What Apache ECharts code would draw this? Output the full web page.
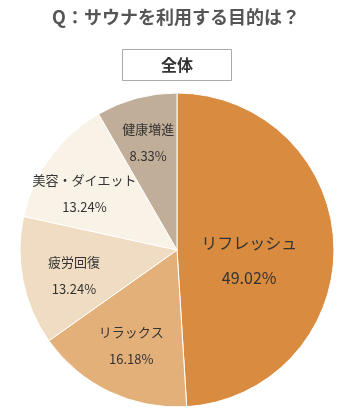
<!DOCTYPE html>
<html>
<head>
<meta charset="utf-8">
<script src="https://cdn.jsdelivr.net/npm/echarts@6/dist/echarts.min.js"></script>
<style>
  html, body { margin: 0; padding: 0; background: #fff; }
  #chart { width: 352px; height: 420px; }
</style>
</head>
<body>
<div id="chart"></div>
<script>
// 回答カテゴリと割合(%)
const categories = ['リフレッシュ', 'リラックス', '疲労回復', '美容・ダイエット', '健康増進'];
const values = [49.02, 16.18, 13.24, 13.24, 8.33];
const colors = ['#D98B3F', '#E4B07A', '#F0DCC2', '#F9F2E6', '#C1AE99'];
// ラベルの半径位置(半径に対する割合)と縦方向の微調整
const labelRadius = [0.46, 0.675, 0.67, 0.73, 0.71];
const labelShiftY = [13, 0, 5, 11, 0];

const CX = 177, CY = 250, R = 157;
const FONT = '"Noto Sans CJK JP", "Noto Sans", sans-serif';

const chart = echarts.init(document.getElementById('chart'));

const option = {
  animation: false,
  title: {
    text: 'Q：サウナを利用する目的は？',
    left: 'center',
    top: 3,
    textStyle: { fontFamily: FONT, fontSize: 18, fontWeight: 'bold', color: '#555' }
  },
  graphic: [
    {
      type: 'rect',
      shape: { x: 122.5, y: 49.5, width: 109, height: 31 },
      style: { fill: '#fff', stroke: '#aaa', lineWidth: 1 }
    },
    {
      type: 'text',
      x: 177, y: 65,
      style: {
        text: '全体', fontFamily: FONT, fontSize: 16, fontWeight: 'bold',
        fill: '#333', align: 'center', verticalAlign: 'middle'
      }
    }
  ],
  series: [
    {
      type: 'pie',
      center: [CX, CY],
      radius: [0, R],
      startAngle: 90,
      clockwise: true,
      itemStyle: { borderColor: '#fff', borderWidth: 1 },
      label: {
        show: true,
        position: 'inside',
        fontFamily: FONT,
        fontSize: 13,
        color: '#333',
        lineHeight: 27,
        formatter: p => p.name + '\n' + p.value.toFixed(2) + '%'
      },
      labelLine: { show: false },
      labelLayout: function (params) {
        const rect = params.labelRect;
        const lx = rect.x + rect.width / 2;
        const ly = rect.y + rect.height / 2;
        const dx = lx - CX, dy = ly - CY;
        const d = Math.sqrt(dx * dx + dy * dy) || 1;
        const f = labelRadius[params.dataIndex] * R;
        return {
          dx: CX + dx / d * f - lx,
          dy: CY + dy / d * f - ly + labelShiftY[params.dataIndex]
        };
      },
      data: categories.map((name, i) => {
        const item = { name: name, value: values[i], itemStyle: { color: colors[i] } };
        if (i === 0) item.label = { fontSize: 16, lineHeight: 35 };
        return item;
      })
    }
  ]
};

chart.setOption(option);
</script>
</body>
</html>
